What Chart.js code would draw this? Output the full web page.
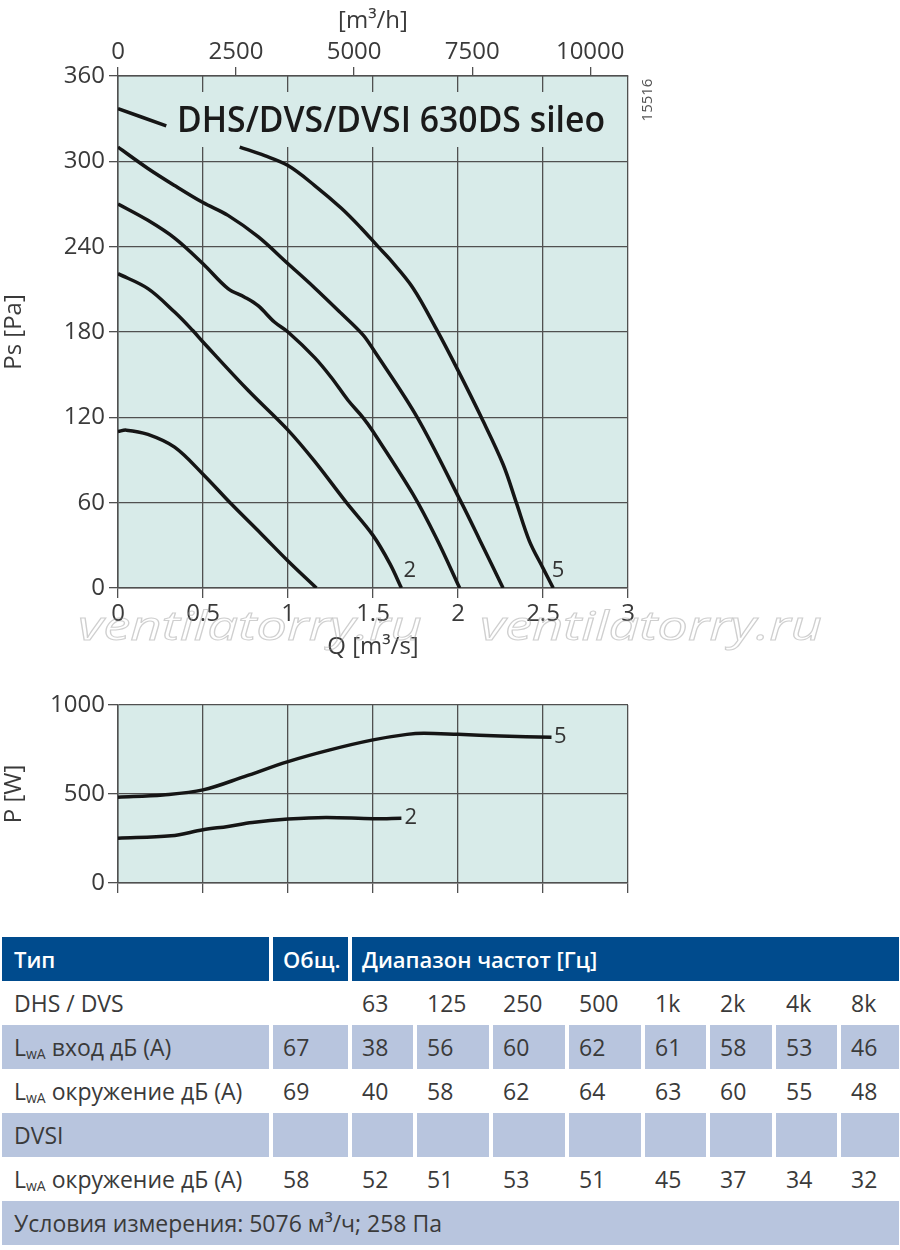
<!DOCTYPE html>
<html lang="ru">
<head>
<meta charset="UTF-8">
<title>DHS/DVS/DVSI 630DS sileo</title>
<script src="https://cdn.jsdelivr.net/npm/chart.js@4"></script>
<style>
    body {
        margin: 0;
        width: 900px;
        height: 1250px;
        background: #fff;
        position: relative;
        overflow: hidden;
        font-family: "Open Sans", "DejaVu Sans", sans-serif;
    }
    #pressureChart { position: absolute; left: 0; top: 0; }
    #powerChart { position: absolute; left: 0; top: 680px; }
    #soundTable {
        position: absolute;
        left: 2px;
        top: 937px;
        display: grid;
        grid-template-columns: 267px 75px 61px 72px 72px 72px 61px 62px 61px 58px;
        grid-auto-rows: 44px;
        column-gap: 4px;
    }
    .cell {
        display: flex;
        align-items: center;
        padding-left: 10px;
        font-size: 23px;
        color: #3a3a3a;
        white-space: nowrap;
    }
    .first { padding-left: 12px; }
    .head { background: #004b8d; color: #fff; font-weight: 600; font-size: 22px; }
    .shade { background: #b8c5de; }
    .cell sub { font-size: 14px; vertical-align: baseline; position: relative; top: 3px; margin-right: 6px; }
</style>
</head>
<body>
<canvas id="pressureChart" width="900" height="665"></canvas>
<canvas id="powerChart" width="900" height="230"></canvas>
<div id="soundTable"></div>

<script>
// pressure curves, Q [m3/s] vs Ps [Pa]
const q1  = [0, 0.049, 0.176, 0.333, 0.5, 0.667, 0.843, 1.0, 1.167];
const ps1 = [110, 111, 108, 99, 80, 59, 38, 19, 0];

const q2  = [0, 0.176, 0.333, 0.44, 0.5, 0.765, 1.0, 1.157, 1.344, 1.5, 1.6, 1.667];
const ps2 = [221, 210.5, 194, 181, 173, 139, 111, 89, 60, 37, 17, 0];

const q3  = [0, 0.176, 0.333, 0.5, 0.647, 0.745, 0.824, 0.92, 1.0, 1.157, 1.255, 1.353, 1.44, 1.5, 1.735, 1.873, 2.01];
const ps3 = [270, 258.5, 246, 228, 210.5, 204.5, 198.5, 187, 180, 162, 148, 132, 120, 110, 66, 35, 0];

const q4  = [0, 0.176, 0.333, 0.5, 0.647, 0.824, 1.0, 1.157, 1.314, 1.441, 1.5, 1.76, 2.02, 2.127, 2.265];
const ps4 = [310, 295, 283, 271, 262, 247, 228, 211, 193, 178, 168, 120, 60, 34, 0];

// curve 5 is hidden behind the title between 0.284 and 0.716
const q5  = [0, 0.284, 0.5, 0.716, 0.863, 1.0, 1.157, 1.314, 1.431, 1.53, 1.6, 1.735, 1.873, 2.0, 2.137, 2.265, 2.343, 2.42, 2.5, 2.56];
const ps5 = [337, 325, null, 310, 304, 297, 283, 267, 253, 240, 231, 211, 182, 153, 120, 87, 60, 33, 14, 0];

// power curves, Q [m3/s] vs P [W]
const pq2 = [0, 0.312, 0.5, 0.647, 0.79, 1.0, 1.223, 1.5, 1.667];
const pw2 = [252, 265, 299, 318, 340, 359, 368, 361, 364];
const pq5 = [0, 0.264, 0.5, 0.743, 1.0, 1.247, 1.5, 1.7, 1.8, 2.0, 2.25, 2.55];
const pw5 = [482, 495, 523, 598, 682, 748, 804, 835, 841, 835, 826, 819];

// ticks
const qTicks = [0, 0.5, 1, 1.5, 2, 2.5, 3];
const m3hTicks = [0, 2500, 5000, 7500, 10000];
const psTicks = [0, 60, 120, 180, 240, 300, 360];
const pTicks = [0, 500, 1000];

// curve number labels
const labelText = ['2', '5'];
const psLabelQ = [1.716, 2.588];
const psLabelPa = [12, 12];
const pLabelQ = [1.722, 2.602];
const pLabelW = [364, 819];

// sound table
const bands = ['63', '125', '250', '500', '1k', '2k', '4k', '8k'];
const inletTotal = 67;
const inletLevels = [38, 56, 60, 62, 61, 58, 53, 46];
const surroundTotal = 69;
const surroundLevels = [40, 58, 62, 64, 63, 60, 55, 48];
const dvsiTotal = 58;
const dvsiLevels = [52, 51, 53, 51, 45, 37, 34, 32];

Chart.defaults.font.family = '"Open Sans", "DejaVu Sans", sans-serif';
Chart.defaults.color = '#3a3a3a';

const plotBg = '#d8ebe9';
const gridColor = '#505050';

function toPoints(xs, ys) {
    return xs.map((x, i) => ({ x: x, y: ys[i] }));
}

function curve(xs, ys) {
    return {
        data: toPoints(xs, ys),
        showLine: true,
        borderColor: '#151515',
        borderWidth: 3.5,
        pointRadius: 0,
        tension: 0.35,
        spanGaps: false,
        fill: false
    };
}

function fixedTicks(values) {
    return scale => { scale.ticks = values.map(v => ({ value: v })); };
}

const plotBackground = {
    id: 'plotBackground',
    beforeDraw(chart) {
        const a = chart.chartArea, ctx = chart.ctx;
        ctx.save();
        ctx.fillStyle = plotBg;
        ctx.fillRect(a.left, a.top, a.right - a.left, a.bottom - a.top);
        ctx.restore();
    }
};

const curveLabels = {
    id: 'curveLabels',
    afterDatasetsDraw(chart, args, opts) {
        const ctx = chart.ctx, xs = chart.scales.x, ys = chart.scales.y;
        ctx.save();
        ctx.font = '22px "Open Sans", sans-serif';
        ctx.fillStyle = '#333';
        ctx.textAlign = 'center';
        ctx.textBaseline = 'middle';
        opts.x.forEach((q, i) => {
            ctx.fillText(opts.text[i], xs.getPixelForValue(q), ys.getPixelForValue(opts.y[i]));
        });
        ctx.restore();
    }
};

// title box over the grid, plus the small drawing number and watermark
const titleBox = {
    id: 'titleBox',
    beforeDatasetsDraw(chart) {
        const ctx = chart.ctx, a = chart.chartArea;
        ctx.save();
        ctx.fillStyle = plotBg;
        ctx.fillRect(a.left + 52, 92, 448, 55);
        ctx.font = '600 36px "Open Sans", sans-serif';
        const text = 'DHS/DVS/DVSI 630DS sileo';
        const w = ctx.measureText(text).width;
        ctx.translate(a.left + 59, 132);
        ctx.scale(428 / w, 1);
        ctx.fillStyle = '#1a1a1a';
        ctx.textBaseline = 'alphabetic';
        ctx.fillText(text, 0, 0);
        ctx.restore();
    },
    afterDraw(chart) {
        const ctx = chart.ctx;
        ctx.save();
        ctx.font = '15px "Open Sans", sans-serif';
        ctx.fillStyle = '#555';
        ctx.translate(648, 100);
        ctx.rotate(-Math.PI / 2);
        ctx.textAlign = 'center';
        ctx.textBaseline = 'middle';
        ctx.fillText('15516', 0, 0);
        ctx.restore();

        ctx.save();
        ctx.font = 'italic 40px "Open Sans", sans-serif';
        ctx.strokeStyle = 'rgba(160,160,160,0.5)';
        ctx.lineWidth = 1;
        const mark = 'ventilatorry.ru';
        const mw = ctx.measureText(mark).width;
        [[78, 344], [480, 342]].forEach(([x0, width]) => {
            ctx.save();
            ctx.translate(x0, 640);
            ctx.scale(width / mw, 1);
            ctx.strokeText(mark, 0, 0);
            ctx.restore();
        });
        ctx.restore();
    }
};

const tickFont = { size: 24 };

new Chart(document.getElementById('pressureChart'), {
    type: 'scatter',
    data: {
        datasets: [curve(q1, ps1), curve(q2, ps2), curve(q3, ps3), curve(q4, ps4), curve(q5, ps5)]
    },
    options: {
        responsive: false,
        animation: false,
        layout: { padding: { left: 0, right: 272, top: 0, bottom: 0 }, autoPadding: false },
        plugins: {
            legend: { display: false },
            tooltip: { enabled: false },
            curveLabels: { x: psLabelQ, y: psLabelPa, text: labelText }
        },
        scales: {
            x: {
                type: 'linear', position: 'bottom', min: 0, max: 3,
                afterBuildTicks: fixedTicks(qTicks),
                afterFit: s => { s.height = 77; },
                grid: { color: gridColor, lineWidth: 1.3, tickLength: 10 },
                border: { color: gridColor, width: 1.5 },
                ticks: { font: tickFont, padding: 2, maxRotation: 0, callback: v => String(v) },
                title: { display: true, text: 'Q [m³/s]', font: tickFont, padding: { top: 0, bottom: 3 } }
            },
            x2: {
                type: 'linear', position: 'top', min: 0, max: 10800,
                afterBuildTicks: fixedTicks(m3hTicks),
                afterFit: s => { s.height = 76; },
                grid: { drawOnChartArea: false, color: gridColor, lineWidth: 1.3, tickLength: 9 },
                border: { color: gridColor, width: 1.5 },
                ticks: { font: tickFont, padding: 0, maxRotation: 0, callback: v => String(v) },
                title: { display: true, text: '[m³/h]', font: tickFont, padding: { top: 7, bottom: 0 } }
            },
            y: {
                type: 'linear', position: 'left', min: 0, max: 360,
                afterBuildTicks: fixedTicks(psTicks),
                afterFit: s => { s.width = 118; },
                grid: { color: gridColor, lineWidth: 1.3, tickLength: 9 },
                border: { color: gridColor, width: 1.5 },
                ticks: { font: tickFont, padding: 4, callback: v => String(v) },
                title: { display: true, text: 'Ps [Pa]', font: tickFont, padding: { top: 0, bottom: 1 } }
            }
        }
    },
    plugins: [plotBackground, titleBox, curveLabels]
});

new Chart(document.getElementById('powerChart'), {
    type: 'scatter',
    data: {
        datasets: [curve(pq2, pw2), curve(pq5, pw5)]
    },
    options: {
        responsive: false,
        animation: false,
        layout: { padding: { left: 0, right: 272, top: 25, bottom: 0 }, autoPadding: false },
        plugins: {
            legend: { display: false },
            tooltip: { enabled: false },
            curveLabels: { x: pLabelQ, y: pLabelW, text: labelText }
        },
        scales: {
            x: {
                type: 'linear', position: 'bottom', min: 0, max: 3,
                afterBuildTicks: fixedTicks(qTicks),
                afterFit: s => { s.height = 27; },
                grid: { color: gridColor, lineWidth: 1.3, tickLength: 10 },
                border: { color: gridColor, width: 1.5 },
                ticks: { display: false }
            },
            y: {
                type: 'linear', position: 'left', min: 0, max: 1000,
                afterBuildTicks: fixedTicks(pTicks),
                afterFit: s => { s.width = 118; },
                grid: { color: gridColor, lineWidth: 1.3, tickLength: 10 },
                border: { color: gridColor, width: 1.5 },
                ticks: { font: tickFont, padding: 3, callback: v => String(v) },
                title: { display: true, text: 'P [W]', font: tickFont, padding: { top: 0, bottom: 4 } }
            }
        }
    },
    plugins: [plotBackground, curveLabels]
});

// sound data table
const table = document.getElementById('soundTable');

function addCell(html, cls, span) {
    const d = document.createElement('div');
    d.className = 'cell ' + (cls || '');
    if (span) d.style.gridColumn = 'span ' + span;
    d.innerHTML = '<span>' + html + '</span>';
    table.appendChild(d);
}

function addRow(label, total, values, cls) {
    addCell(label, 'first ' + cls);
    addCell(total, cls);
    values.forEach(v => addCell(v, cls));
}

const lwa = 'L<sub>wA</sub>';
addCell('Тип', 'head first');
addCell('Общ.', 'head');
addCell('Диапазон частот [Гц]', 'head', 8);
addRow('DHS / DVS', '', bands, '');
addRow(lwa + 'вход дБ (А)', inletTotal, inletLevels, 'shade');
addRow(lwa + 'окружение дБ (А)', surroundTotal, surroundLevels, '');
addRow('DVSI', '', bands.map(() => ''), 'shade');
addRow(lwa + 'окружение дБ (А)', dvsiTotal, dvsiLevels, '');
addCell('Условия измерения: 5076 м³/ч; 258 Па', 'first shade', 10);
</script>
</body>
</html>
